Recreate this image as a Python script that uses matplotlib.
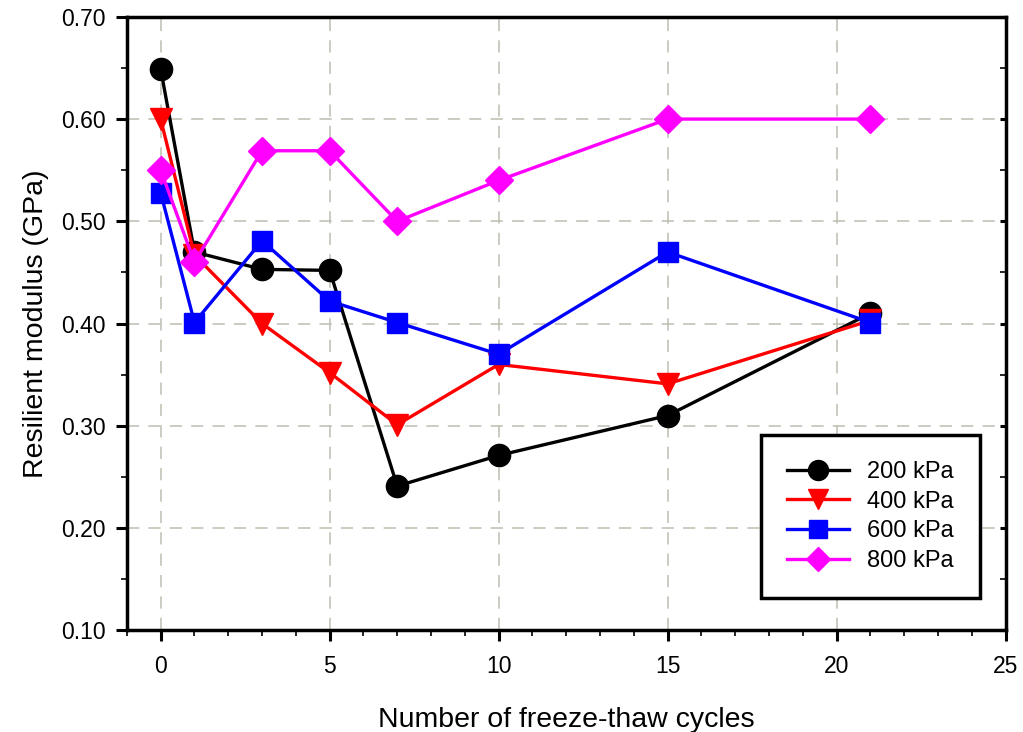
import matplotlib
matplotlib.use("Agg")
import matplotlib.pyplot as plt
from matplotlib.ticker import MultipleLocator, FormatStrFormatter

plt.rcParams['font.family'] = ['Liberation Sans', 'DejaVu Sans']

# freeze-thaw cycles
cycles = [0, 1, 3, 5, 7, 10, 15, 21]

# resilient modulus (GPa) per confining pressure
mr_200 = [0.649, 0.470, 0.453, 0.452, 0.241, 0.271, 0.310, 0.410]
mr_400 = [0.600, 0.467, 0.400, 0.352, 0.301, 0.360, 0.341, 0.403]
mr_600 = [0.528, 0.401, 0.481, 0.422, 0.401, 0.370, 0.470, 0.401]
mr_800 = [0.550, 0.460, 0.569, 0.569, 0.500, 0.540, 0.600, 0.600]

series_labels = ['200 kPa', '400 kPa', '600 kPa', '800 kPa']

fig = plt.figure(figsize=(10.23, 7.32), dpi=100)
ax = fig.add_axes([0.124, 0.139, 0.859, 0.838])

styles = [('black', 'o', 16), ('red', 'v', 16), ('blue', 's', 14), ('magenta', 'D', 14)]
for ys, lab, (c, m, ms) in zip([mr_200, mr_400, mr_600, mr_800], series_labels, styles):
    ax.plot(cycles, ys, color=c, marker=m, ms=ms, lw=2.4, label=lab,
            markeredgecolor=c)

ax.set_xlim(-1, 25)
ax.set_ylim(0.10, 0.70)
ax.xaxis.set_major_locator(MultipleLocator(5))
ax.xaxis.set_minor_locator(MultipleLocator(1))
ax.yaxis.set_major_locator(MultipleLocator(0.1))
ax.yaxis.set_minor_locator(MultipleLocator(0.05))
ax.yaxis.set_major_formatter(FormatStrFormatter('%.2f'))

ax.grid(True, which='major', ls=(0, (8, 6)), color='#bdbdb0', lw=1.1)
ax.set_axisbelow(True)

for s in ax.spines.values():
    s.set_linewidth(2.5)

ax.tick_params(which='major', direction='out', length=8, width=2.2, labelsize=16.5, pad=7)
ax.tick_params(which='minor', direction='out', length=4, width=1.2)
ax.tick_params(axis='x', which='major', pad=10)
# right side: short inward ticks only
ax.tick_params(axis='y', which='both', right=True, labelright=False)
for t in ax.yaxis.get_major_ticks() + ax.yaxis.get_minor_ticks():
    t.tick2line.set_marker(0)
    t.tick2line.set_markersize(4)

ax.set_xlabel('Number of freeze-thaw cycles', fontsize=20.5, labelpad=21)
ax.set_ylabel('Resilient modulus (GPa)', fontsize=20.5, labelpad=9)

leg = ax.legend(loc='lower right', bbox_to_anchor=(0.971, 0.053), fontsize=17,
                frameon=True, fancybox=False, edgecolor='black', framealpha=1,
                borderpad=1.1, labelspacing=0.32, handlelength=2.6,
                borderaxespad=0, markerscale=0.9)
leg.get_frame().set_linewidth(2.5)

fig.savefig('out.png', dpi=100)
